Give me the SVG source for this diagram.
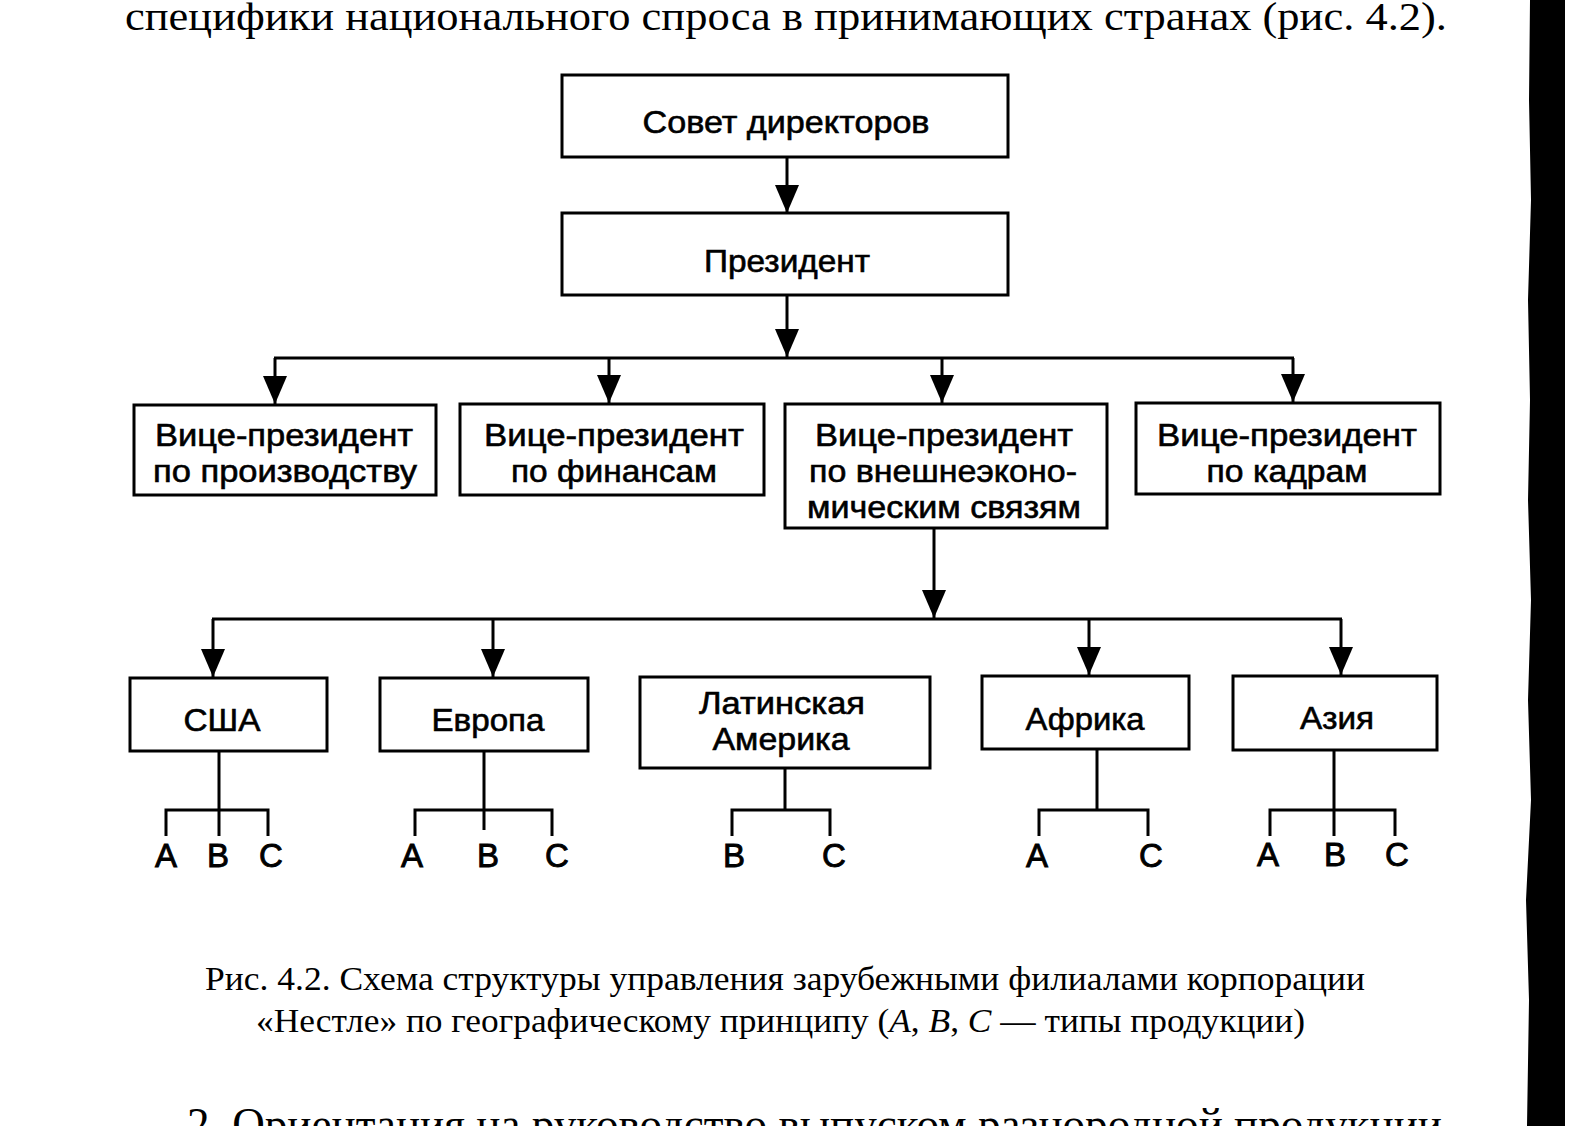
<svg xmlns="http://www.w3.org/2000/svg" width="1575" height="1126" viewBox="0 0 1575 1126">
<defs>
<marker id="ah" markerUnits="userSpaceOnUse" markerWidth="28" markerHeight="24" viewBox="0 0 28 24" refX="28" refY="12" orient="auto">
<path d="M0,0 L28,12 L0,24 z" fill="#000"/>
</marker>
<style>
.box{fill:#fff;stroke:#000;stroke-width:3}
.t{font-family:"Liberation Sans",Arial,sans-serif;font-size:32px;fill:#000;stroke:#000;stroke-width:0.6;text-anchor:middle}
.l{font-family:"Liberation Sans",Arial,sans-serif;font-size:33px;fill:#000;stroke:#000;stroke-width:0.9;text-anchor:middle}
.c{stroke:#000;stroke-width:3;fill:none}
.a{stroke:#000;stroke-width:3;fill:none;marker-end:url(#ah)}
.s{font-family:"Liberation Serif","Times New Roman",serif;fill:#000}
</style>
</defs>
<rect width="1575" height="1126" fill="#fff"/>
<text class="s" x="125" y="30" font-size="41" textLength="1322" lengthAdjust="spacingAndGlyphs">специфики национального спроса в принимающих странах (рис. 4.2).</text>

<g id="connectors">
<line class="a" x1="787" y1="157" x2="787" y2="213"/>
<line class="a" x1="787" y1="295" x2="787" y2="357"/>
<line class="c" x1="274" y1="358" x2="1294" y2="358"/>
<line class="a" x1="275" y1="358" x2="275" y2="404"/>
<line class="a" x1="609" y1="358" x2="609" y2="403"/>
<line class="a" x1="942" y1="358" x2="942" y2="403"/>
<line class="a" x1="1293" y1="358" x2="1293" y2="402"/>
<line class="a" x1="934" y1="528" x2="934" y2="618"/>
<line class="c" x1="212" y1="619" x2="1342" y2="619"/>
<line class="a" x1="213" y1="619" x2="213" y2="677"/>
<line class="a" x1="493" y1="619" x2="493" y2="677"/>
<line class="a" x1="1089" y1="619" x2="1089" y2="675"/>
<line class="a" x1="1341" y1="619" x2="1341" y2="675"/>
<path class="c" d="M219,751 V836 M166,836 V810 H268 V836"/>
<path class="c" d="M484,751 V830 M415,836 V810 H552 V836"/>
<path class="c" d="M785,768 V810 M732,836 V810 H830 V836"/>
<path class="c" d="M1097,749 V810 M1039,836 V810 H1148 V836"/>
<path class="c" d="M1334,750 V836 M1270,836 V810 H1395 V836"/>
</g>

<g id="board"><rect class="box" x="562" y="75" width="446" height="82"/><text class="t" x="786" y="133" textLength="287" lengthAdjust="spacingAndGlyphs">Совет директоров</text></g>
<g id="president"><rect class="box" x="562" y="213" width="446" height="82"/><text class="t" x="787" y="272" textLength="166" lengthAdjust="spacingAndGlyphs">Президент</text></g>

<g id="vp-production"><rect class="box" x="134" y="405" width="302" height="90"/>
<text class="t" x="284" y="446" textLength="258" lengthAdjust="spacingAndGlyphs">Вице-президент</text>
<text class="t" x="285" y="482" textLength="264" lengthAdjust="spacingAndGlyphs">по производству</text></g>
<g id="vp-finance"><rect class="box" x="460" y="404" width="304" height="91"/>
<text class="t" x="614" y="446" textLength="260" lengthAdjust="spacingAndGlyphs">Вице-президент</text>
<text class="t" x="614" y="482" textLength="206" lengthAdjust="spacingAndGlyphs">по финансам</text></g>
<g id="vp-foreign"><rect class="box" x="785" y="404" width="322" height="124"/>
<text class="t" x="944" y="446" textLength="258" lengthAdjust="spacingAndGlyphs">Вице-президент</text>
<text class="t" x="943" y="482" textLength="268" lengthAdjust="spacingAndGlyphs">по внешнеэконо-</text>
<text class="t" x="944" y="518" textLength="274" lengthAdjust="spacingAndGlyphs">мическим связям</text></g>
<g id="vp-hr"><rect class="box" x="1136" y="403" width="304" height="91"/>
<text class="t" x="1287" y="446" textLength="260" lengthAdjust="spacingAndGlyphs">Вице-президент</text>
<text class="t" x="1287" y="482" textLength="161" lengthAdjust="spacingAndGlyphs">по кадрам</text></g>

<g id="usa"><rect class="box" x="130" y="678" width="197" height="73"/><text class="t" x="222" y="731" textLength="77" lengthAdjust="spacingAndGlyphs">США</text></g>
<g id="europe"><rect class="box" x="380" y="678" width="208" height="73"/><text class="t" x="488" y="731" textLength="113" lengthAdjust="spacingAndGlyphs">Европа</text></g>
<g id="latam"><rect class="box" x="640" y="677" width="290" height="91"/>
<text class="t" x="782" y="714" textLength="166" lengthAdjust="spacingAndGlyphs">Латинская</text>
<text class="t" x="781" y="750" textLength="137" lengthAdjust="spacingAndGlyphs">Америка</text></g>
<g id="africa"><rect class="box" x="982" y="676" width="207" height="73"/><text class="t" x="1085" y="730" textLength="119" lengthAdjust="spacingAndGlyphs">Африка</text></g>
<g id="asia"><rect class="box" x="1233" y="676" width="204" height="74"/><text class="t" x="1337" y="729" textLength="74" lengthAdjust="spacingAndGlyphs">Азия</text></g>

<g id="products">
<text class="l" x="166" y="867">A</text><text class="l" x="218" y="867">B</text><text class="l" x="271" y="867">C</text>
<text class="l" x="412" y="867">A</text><text class="l" x="488" y="867">B</text><text class="l" x="557" y="867">C</text>
<text class="l" x="734" y="867">B</text><text class="l" x="834" y="867">C</text>
<text class="l" x="1037" y="867">A</text><text class="l" x="1151" y="867">C</text>
<text class="l" x="1268" y="866">A</text><text class="l" x="1335" y="866">B</text><text class="l" x="1397" y="866">C</text>
</g>

<text class="s" x="205" y="990" font-size="34" textLength="1160" lengthAdjust="spacingAndGlyphs">Рис. 4.2. Схема структуры управления зарубежными филиалами корпорации</text>
<text class="s" x="256" y="1032" font-size="34" textLength="1049" lengthAdjust="spacingAndGlyphs">«Нестле» по географическому принципу (<tspan font-style="italic">A</tspan>, <tspan font-style="italic">B</tspan>, <tspan font-style="italic">C</tspan> — типы продукции)</text>

<text class="s" x="187" y="1140" font-size="46" textLength="1255" lengthAdjust="spacingAndGlyphs">2. Ориентация на руководство выпуском разнородной продукции</text>

<path d="M1530,0 L1565,0 L1565,1126 L1527,1126 L1529,1000 L1526,900 L1531,800 L1528,700 L1531,600 L1528,500 L1530,400 L1528,300 L1531,200 L1529,100 z" fill="#000"/>
</svg>
